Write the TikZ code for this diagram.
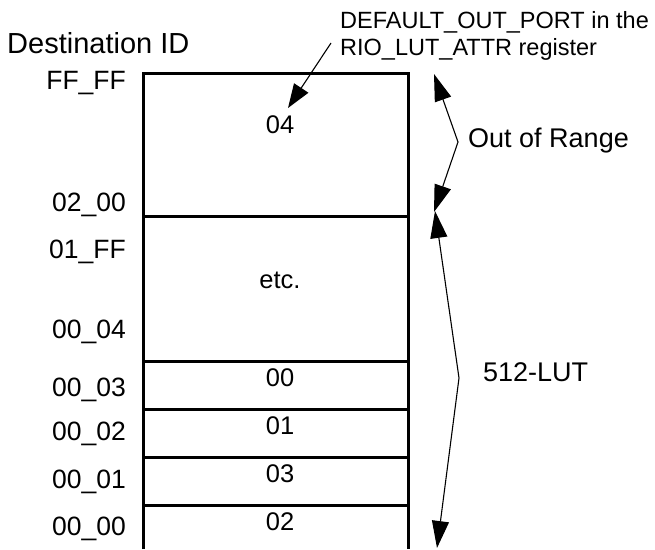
\documentclass[tikz,border=0pt]{standalone}
\usepackage{fontspec}
\setmainfont{Liberation Sans}
\usetikzlibrary{arrows.meta}

\begin{document}
\begin{tikzpicture}[x=1pt, y=-1pt,
    % Styles
    frame/.style={
        line width=3pt
    },
    idlabel/.style={
        anchor=east,
        inner sep=0pt,
        text height=0.716em,
        text depth=0pt,
        font=\fontsize{26.5}{30}\selectfont
    },
    cell/.style={
        inner sep=0pt,
        text height=0.716em,
        text depth=0pt,
        font=\fontsize{25.5}{30}\selectfont
    },
    rangelabel/.style={
        anchor=west,
        inner sep=0pt,
        text height=0.716em,
        text depth=0pt,
        font=\fontsize{27}{30}\selectfont
    },
    note/.style={
        anchor=north west,
        align=left,
        inner sep=0pt,
        font=\fontsize{23.5}{27}\selectfont
    },
    pointer/.style={
        line width=1.1pt,
        -{Triangle[length=24pt, width=17pt]}
    },
    span/.style={
        line width=1.1pt,
        {Triangle[length=27pt, width=17pt]}-{Triangle[length=27pt, width=17pt]}
    }
]
\useasboundingbox (0,0) rectangle (655,549);

% Table frame (open at the bottom)
\draw[frame] (143,549) -- (143,73) -- (408,73) -- (408,549);
\foreach \y in {216, 361, 409, 457, 505}
    \draw[frame] (143,\y) -- (408,\y);

% Destination ID column
\node[anchor=west, inner sep=0pt, text height=0.716em, text depth=0pt,
      font=\fontsize{29}{32}\selectfont] (dest) at (7,50) {Destination ID};
\foreach \y/\t [count=\i] in {86/FF\_FF, 208/02\_00, 255/01\_FF, 335/00\_04,
                               393/00\_03, 437/00\_02, 485/00\_01, 532/00\_00}
    \node[idlabel] (id\i) at (126,\y) {\t};

% Table entries
\node[cell] (cell04) at (280,130) {04};
\node[cell] (celletc) at (280,285) {etc.};
\node[cell] (cell00) at (280,383) {00};
\node[cell] (cell01) at (280,431) {01};
\node[cell] (cell03) at (280,479) {03};
\node[cell] (cell02) at (280,527) {02};

% Default port note
\node[note] (default) at (340,11) {DEFAULT\_OUT\_PORT in the\\RIO\_LUT\_ATTR register};
\coordinate (notefoot) at (331,43);
\coordinate (notetip) at (288,108);
\draw[pointer] (notefoot) -- (notetip);

% Range brackets
\coordinate (oortop) at (434,74);
\coordinate (oormid) at (458,142);
\coordinate (oorbot) at (434,212);
\coordinate (luttop) at (435,211);
\coordinate (lutmid) at (459,378);
\coordinate (lutbot) at (437,548);
\draw[span] (oortop) -- (oormid) -- (oorbot);
\draw[span] (luttop) -- (lutmid) -- (lutbot);
\node[rangelabel] (oor) at (468,144) {Out of Range};
\node[rangelabel] (lut) at (483,378) {512-LUT};

\end{tikzpicture}
\end{document}
